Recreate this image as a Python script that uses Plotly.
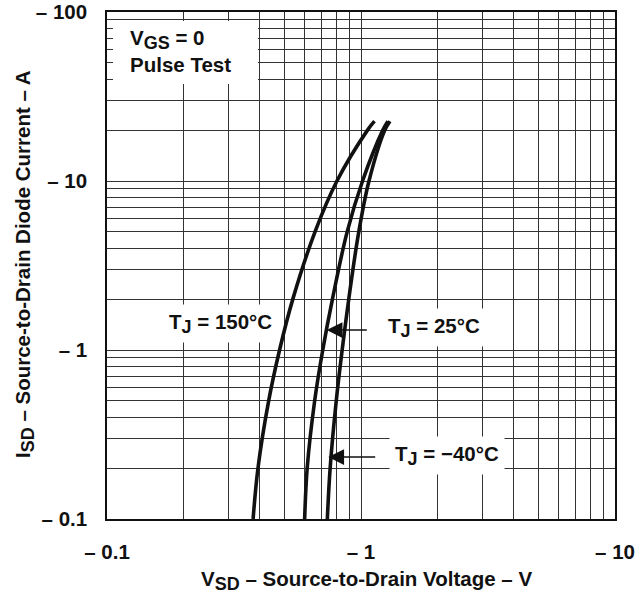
import plotly.graph_objects as go

# ---- data ----
current_A = [0.1, 0.2, 0.5, 1, 2, 5, 10, 20, 22.6]
vsd_150C = [0.376, 0.393, 0.433, 0.478, 0.539, 0.659, 0.804, 1.061, 1.13]
vsd_25C = [0.600, 0.614, 0.657, 0.707, 0.772, 0.882, 1.014, 1.219, 1.276]
vsd_m40C = [0.737, 0.756, 0.799, 0.843, 0.895, 0.980, 1.075, 1.241, 1.30]

x_major = [0.1, 1, 10]
x_major_labels = ["\u2013 0.1", "\u2013 1", "\u2013 10"]
x_minor = [m * 10 ** e for e in (-1, 0) for m in range(2, 10)]
y_major = [0.1, 1, 10, 100]
y_major_labels = ["\u2013 0.1", "\u2013 1", "\u2013 10", "\u2013 100"]
y_minor = [m * 10 ** e for e in (-1, 0, 1) for m in range(2, 10)]

FONT = "Liberation Sans, Arial, sans-serif"
FS = 20.5
INK = "#111111"

fig = go.Figure()
for vs in (vsd_150C, vsd_25C, vsd_m40C):
    fig.add_trace(go.Scatter(x=vs, y=current_A, mode="lines",
                             line=dict(color=INK, width=3.6, shape="spline", smoothing=1.0),
                             showlegend=False, hoverinfo="skip"))

L, R, T, B = 107, 29, 12, 74
W, H = 644, 593
PW, PH = W - L - R, H - T - B

def px(x):
    return (x - L) / PW

def py(y):
    return 1 - (y - T) / PH

GRID = "#333333"
axis_common = dict(type="log", showgrid=True, gridcolor=GRID, gridwidth=1,
                   showline=True, linecolor=INK, linewidth=1.5, mirror=True,
                   ticks="", zeroline=False,
                   tickfont=dict(family=FONT, size=FS, color=INK, weight="bold"))

fig.update_xaxes(range=[-1, 1], tickmode="array", tickvals=x_major, ticktext=x_major_labels,
                 ticklabelstandoff=14,
                 minor=dict(tickmode="array", tickvals=x_minor, showgrid=True,
                            gridcolor=GRID, gridwidth=1, ticks=""),
                 **axis_common)
fig.update_yaxes(range=[-1, 2], tickmode="array", tickvals=y_major, ticktext=y_major_labels,
                 ticklabelstandoff=14,
                 minor=dict(tickmode="array", tickvals=y_minor, showgrid=True,
                            gridcolor=GRID, gridwidth=1, ticks=""),
                 **axis_common)

# white box behind the VGS note
fig.add_shape(type="rect", xref="paper", yref="paper",
              x0=px(113), x1=px(258), y0=py(84), y1=py(21),
              fillcolor="white", line=dict(width=0), layer="above")

SUB = '<sub><span style="font-size:18px">{}</span></sub>'
tf = dict(family=FONT, size=FS, color=INK, weight="bold")
ann = []
ann.append(dict(text="V" + SUB.format("GS") + " = 0", x=px(128), y=py(39), xanchor="left", yanchor="middle"))
ann.append(dict(text="Pulse Test", x=px(128), y=py(65), xanchor="left", yanchor="middle"))
ann.append(dict(text="T" + SUB.format("J") + " = 150\u00b0C", x=px(163), y=py(323), xanchor="left",
                yanchor="middle", bgcolor="white", borderpad=5))
ann.append(dict(text="T" + SUB.format("J") + " = 25\u00b0C", x=px(382), y=py(327.5), xanchor="left",
                yanchor="middle", bgcolor="white", borderpad=5))
ann.append(dict(text="T" + SUB.format("J") + " = \u221240\u00b0C", x=px(389), y=py(455.5), xanchor="left",
                yanchor="middle", bgcolor="white", borderpad=5))
for a in ann:
    a.update(xref="paper", yref="paper", showarrow=False, font=tf)

# arrows pointing at the 25 C and -40 C curves
for tipx, tipy, tailx in ((326.7, 330, 368.3), (328.3, 457, 376.7)):
    ann.append(dict(text="", xref="paper", yref="paper", x=px(tipx), y=py(tipy),
                    ax=tailx - tipx, ay=0, showarrow=True, arrowhead=2,
                    arrowwidth=1.5, arrowsize=2.1, arrowcolor=INK, standoff=0))

# axis titles
ann.append(dict(text="V" + SUB.format("SD") + " \u2013 Source-to-Drain Voltage \u2013 V",
                xref="paper", yref="paper", x=px(366), y=py(580), xanchor="center", yanchor="middle",
                showarrow=False, font=tf))
ann.append(dict(text="I" + SUB.format("SD") + " \u2013 Source-to-Drain Diode Current \u2013 A",
                xref="paper", yref="paper", x=px(24), y=py(264), xanchor="center", yanchor="middle",
                textangle=-90, showarrow=False, font=tf))

fig.update_layout(width=W, height=H, margin=dict(l=L, r=R, t=T, b=B, autoexpand=False),
                  plot_bgcolor="white", paper_bgcolor="white", annotations=ann,
                  font=dict(family=FONT, color=INK))

fig.write_html("out.html", config={"displayModeBar": False},
               post_script="document.body.style.margin='0';document.documentElement.style.overflow='hidden';")
